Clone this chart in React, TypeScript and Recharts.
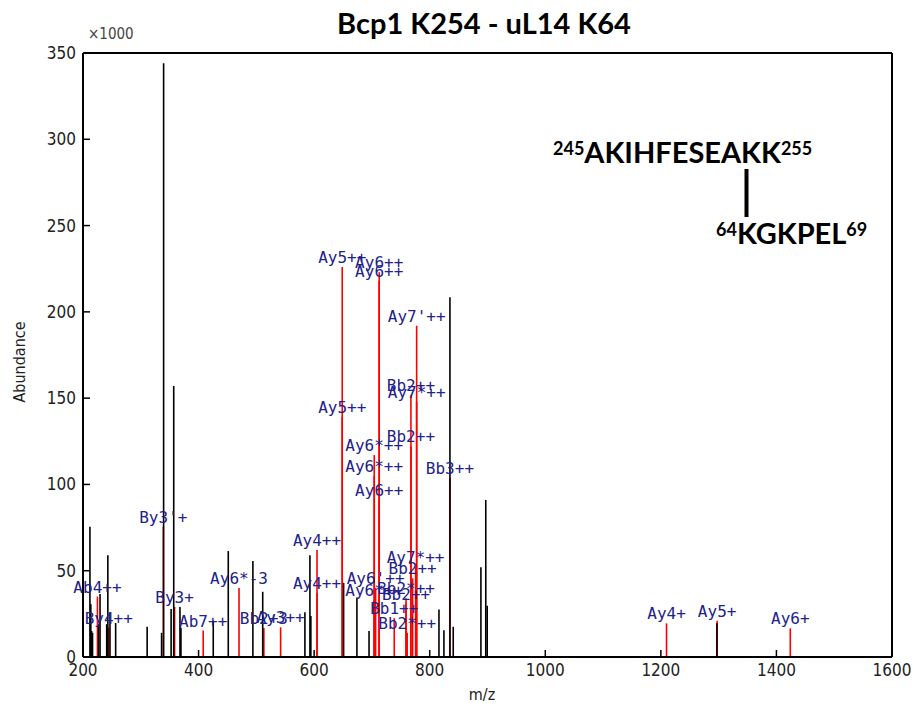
import { ComposedChart, Scatter, ErrorBar, XAxis, YAxis, ReferenceLine } from 'recharts';

// unassigned peaks (m/z, abundance x1000)
const blackMz = [
  212, 213.5, 215, 216.5, 227, 229.5, 241, 243, 246.7, 256.5, 311, 336, 339.5, 352.5, 357,
  367.8, 369.5, 425.4, 451.4, 494, 511, 584, 592.7, 594.3, 651, 674, 695, 816, 824.6, 835,
  840.7, 888.6, 897, 899.5, 1297,
];
const blackAbundance = [
  75.5, 30.5, 15, 14, 19, 36.5, 19, 59, 25.7, 19.7, 17.5, 14, 344, 27.8, 157,
  29, 17, 21, 61.4, 55.7, 37.8, 26, 59, 23.8, 43, 34.5, 15, 27.5, 15.5, 208.5,
  17.5, 52, 91, 29.7, 19.5,
];

// annotated fragment ions
const redMz = [
  225, 244.5, 339, 358.5, 408, 470, 513, 542, 605, 605, 648.6, 648.6, 712.6, 712.6, 704,
  704, 712.6, 706.4, 704, 759, 759, 738.6, 761, 767.5, 767.5, 770.4, 777.4, 777.4, 775.6,
  835, 1209.8, 1297.4, 1424,
];
const redAbundance = [
  35, 17, 75.5, 29, 15.3, 40, 16.8, 17.2, 62, 37, 226, 139, 223, 218, 117,
  105, 91, 40, 33, 34, 31, 22.5, 14, 152, 122, 45.6, 192, 148, 52,
  104, 19.5, 21, 16.6,
];
const redLabels = [
  'Ab4++', 'By4++', "By3'+", 'By3+', 'Ab7++', 'Ay6*-3', 'Bb2+3', 'Ay3++', 'Ay4++', 'Ay4++',
  'Ay5++', 'Ay5++', 'Ay6++', 'Ay6++', 'Ay6*++', 'Ay6*++', 'Ay6++', "Ay6'++", 'Ay6*++',
  'Bb2*++', 'Bb2++', 'Bb1++', 'Bb2*++', 'Bb2++', 'Bb2++', 'Bb2++', "Ay7'++", 'Ay7*++',
  'Ay7*++', 'Bb3++', 'Ay4+', 'Ay5+', 'Ay6+',
];

const xTicks = [200, 400, 600, 800, 1000, 1200, 1400, 1600];
const yTicks = [0, 50, 100, 150, 200, 250, 300, 350];

const blackPeaks = blackMz.map((mz, i) => ({
  mz,
  ab: blackAbundance[i],
  err: [blackAbundance[i], 0],
}));
const redPeaks = redMz.map((mz, i) => ({
  mz,
  ab: redAbundance[i],
  err: [redAbundance[i], 0],
  label: redLabels[i],
}));

const axisFont = "'Liberation Sans Narrow', 'DejaVu Sans Condensed', sans-serif";
const labelFont = "'DejaVu Sans Mono', monospace";

function XTick({ x, y, payload }: any) {
  return (
    <g>
      <line x1={x} x2={x} y1={y} y2={y - 7} stroke="#000" strokeWidth={1.5} />
      <text x={x} y={y + 19} textAnchor="middle" fontSize={17} fontFamily={axisFont} fill="#222">
        {payload.value}
      </text>
    </g>
  );
}

function YTick({ x, y, payload }: any) {
  return (
    <g>
      <line x1={x} x2={x + 7} y1={y} y2={y} stroke="#000" strokeWidth={1.5} />
      <text x={x - 7} y={y + 6} textAnchor="end" fontSize={17} fontFamily={axisFont} fill="#222">
        {payload.value}
      </text>
    </g>
  );
}

function NoDot() {
  return <g />;
}

function PeakLabel({ cx, cy, payload }: any) {
  return (
    <text x={cx} y={cy - 4} textAnchor="middle" fontSize={16} fontFamily={labelFont} fill="#22228a">
      {payload.label}
    </text>
  );
}

export default function App() {
  return (
    <div style={{ position: 'absolute', left: 0, top: 0, width: 914, height: 715, background: '#fff' }}>
      <ComposedChart width={914} height={715} margin={{ top: 53, right: 22, bottom: 0, left: 0 }}>
        <XAxis
          type="number"
          dataKey="mz"
          domain={[200, 1600]}
          ticks={xTicks}
          height={58}
          tickSize={0}
          tickMargin={0}
          tickLine={false}
          axisLine={{ stroke: '#000', strokeWidth: 2 }}
          tick={<XTick />}
        />
        <YAxis
          type="number"
          dataKey="ab"
          domain={[0, 350]}
          ticks={yTicks}
          width={83}
          tickSize={0}
          tickMargin={0}
          tickLine={false}
          axisLine={{ stroke: '#000', strokeWidth: 2 }}
          tick={<YTick />}
        />
        <ReferenceLine y={350} stroke="#000" strokeWidth={2} />
        <ReferenceLine x={1600} stroke="#000" strokeWidth={2} />
        <Scatter data={redPeaks} shape={<NoDot />} isAnimationActive={false}>
          <ErrorBar dataKey="err" direction="y" width={0} stroke="#ff0000" strokeWidth={1.6} isAnimationActive={false} />
        </Scatter>
        <Scatter data={blackPeaks} shape={<NoDot />} isAnimationActive={false}>
          <ErrorBar dataKey="err" direction="y" width={0} stroke="#000" strokeWidth={1.6} isAnimationActive={false} />
        </Scatter>
        <Scatter data={redPeaks} shape={<PeakLabel />} isAnimationActive={false} />
      </ComposedChart>
      <svg
        width={914}
        height={715}
        style={{ position: 'absolute', left: 0, top: 0, pointerEvents: 'none' }}
      >
        <text x={484} y={34} textAnchor="middle" fontFamily="Lato, sans-serif" fontWeight={700} fontSize={29} fill="#000">
          Bcp1 K254 - uL14 K64
        </text>
        <text x={88} y={39} fontFamily={axisFont} fontSize={15} fill="#444">
          ×1000
        </text>
        <text
          x={0}
          y={0}
          transform="translate(25, 362) rotate(-90)"
          textAnchor="middle"
          fontFamily={axisFont}
          fontSize={16}
          fill="#222"
        >
          Abundance
        </text>
        <text x={482} y={700} textAnchor="middle" fontFamily={axisFont} fontSize={16} fill="#222">
          m/z
        </text>
        <text x={553} y={163} fontFamily="Lato, sans-serif" fontWeight={700} fill="#000">
          <tspan fontSize={18} dy={-8}>245</tspan>
          <tspan fontSize={29} dy={8}>AKIHFESEAKK</tspan>
          <tspan fontSize={18} dy={-8}>255</tspan>
        </text>
        <line x1={746.5} x2={746.5} y1={169} y2={217} stroke="#000" strokeWidth={4} />
        <text x={716} y={244} fontFamily="Lato, sans-serif" fontWeight={700} fill="#000">
          <tspan fontSize={18} dy={-8}>64</tspan>
          <tspan fontSize={29} dy={8}>KGKPEL</tspan>
          <tspan fontSize={18} dy={-8}>69</tspan>
        </text>
      </svg>
    </div>
  );
}
